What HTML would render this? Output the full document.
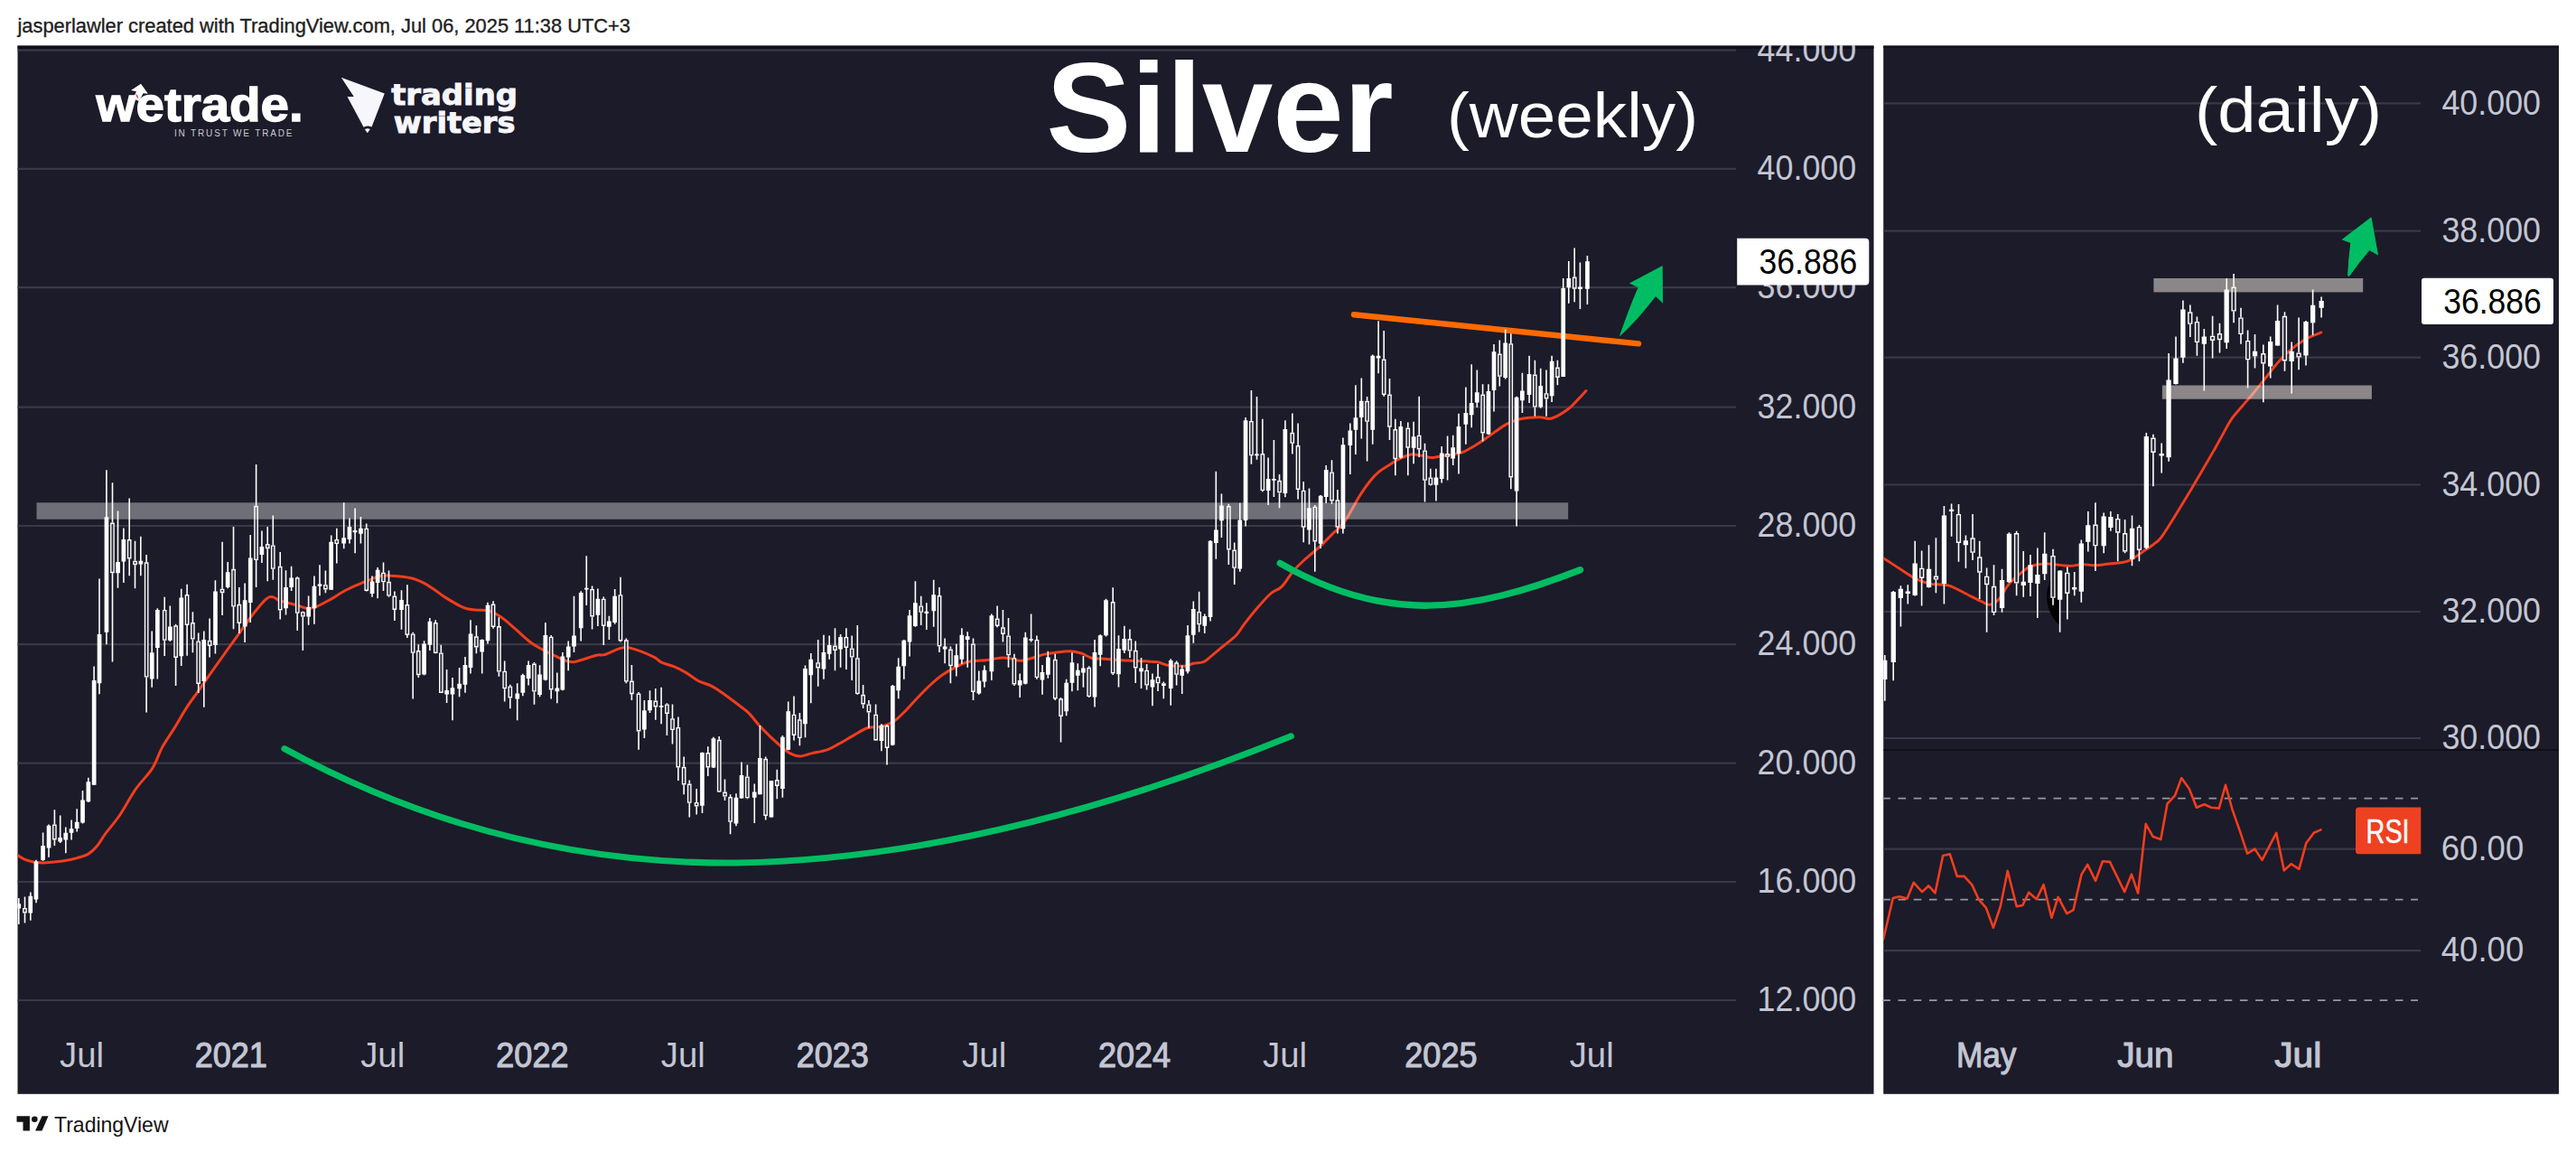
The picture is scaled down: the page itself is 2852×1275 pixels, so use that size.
<!DOCTYPE html><html><head><meta charset="utf-8"><title>Silver weekly and daily chart</title>
<style>html,body{margin:0;padding:0;background:#fff;}body{width:2852px;height:1275px;overflow:hidden;}svg{display:block;}text{font-family:"Liberation Sans",sans-serif;}.b{font-weight:bold;}.dj{font-family:"DejaVu Sans","Liberation Sans",sans-serif;font-weight:bold;}</style></head><body>
<svg width="2852" height="1275" viewBox="0 0 2852 1275">
<rect width="2852" height="1275" fill="#fff"/>
<text x="19.5" y="36.3" font-size="22" fill="#1e1e1e" stroke="#1e1e1e" stroke-width="0.35" textLength="678.5" lengthAdjust="spacingAndGlyphs">jasperlawler created with TradingView.com, Jul 06, 2025 11:38 UTC+3</text>
<rect x="19.5" y="50.6" width="2055.0" height="1160.2" fill="#1c1b29"/>
<rect x="2085.2" y="50.6" width="747.8" height="1160.2" fill="#1c1b29"/>
<rect x="19.5" y="50.6" width="2055.0" height="3.3" fill="#100e1f"/>
<rect x="2085.2" y="50.6" width="747.8" height="2.5" fill="#14121f"/>
<path d="M19.5,55.6H1922M19.5,186.8H1922M19.5,318.2H1922M19.5,450.7H1922M19.5,582.0H1922M19.5,713.2H1922M19.5,844.6H1922M19.5,976.0H1922M19.5,1107.0H1922" stroke="#3b3946" stroke-width="2.2" fill="none"/>
<path d="M2085.2,114.4H2680M2085.2,255.7H2680M2085.2,395.6H2680M2085.2,536.5H2680M2085.2,677.0H2680M2085.2,817.0H2680M2085.2,939.6H2680M2085.2,1052.2H2680" stroke="#3b3946" stroke-width="2.2" fill="none"/>
<path d="M2084.3,883.7H2677M2084.3,995.7H2677M2084.3,1107.2H2677" stroke="#9698a3" stroke-width="1.7" stroke-dasharray="8.6 8.6" fill="none"/>
<path d="M2085.2,830H2833.0" stroke="#07070b" stroke-width="1.2"/>
<svg x="19.5" y="50.6" width="2055.0" height="1160.2" viewBox="19.5 50.6 2055.0 1160.2">
<path d="M19.5,946.5C21.0,947.4 25.2,950.4 28.5,951.7C31.9,953.0 36.1,953.9 39.8,954.4C43.6,954.9 46.6,955.0 51.1,954.8C55.6,954.7 61.6,954.0 66.9,953.3C72.2,952.5 77.6,951.7 82.7,950.3C87.8,949.0 93.2,947.7 97.4,945.4C101.5,943.0 104.3,940.1 107.5,936.3C110.7,932.6 112.4,928.4 116.6,922.8C120.7,917.2 126.7,910.8 132.4,902.5C138.0,894.2 144.4,881.8 150.4,873.2C156.4,864.5 163.6,858.3 168.5,850.6C173.4,842.9 175.6,834.4 179.7,826.9C183.9,819.4 188.8,812.8 193.3,805.4C197.8,798.1 202.3,789.8 206.8,782.9C211.3,775.9 214.7,771.7 220.4,763.7C226.0,755.7 233.5,744.8 240.7,734.7C247.8,724.6 256.5,712.5 263.3,703.1C270.0,693.7 276.0,685.0 281.3,678.3C286.6,671.6 291.4,665.9 294.8,662.9C298.3,660.0 299.4,660.3 302.1,660.7C304.7,661.1 306.2,663.7 310.6,665.2C315.1,666.7 323.7,668.4 328.5,669.8C333.4,671.1 336.4,672.8 339.8,673.2C343.2,673.5 344.7,673.5 348.9,672.0C353.0,670.5 359.0,667.2 364.7,664.1C370.3,661.0 377.1,656.3 382.7,653.3C388.3,650.3 394.0,648.0 398.5,646.1C403.0,644.1 406.0,643.0 409.8,641.6C413.5,640.1 416.6,638.2 421.1,637.5C425.6,636.8 431.2,637.1 436.9,637.5C442.5,637.9 449.7,638.5 454.9,639.8C460.2,641.0 464.3,642.9 468.5,644.9C472.6,646.9 475.6,649.0 479.7,651.7C483.9,654.5 487.6,657.9 493.3,661.4C498.9,664.9 508.0,670.4 513.6,672.7C519.2,675.0 522.6,674.4 527.1,675.0C531.7,675.5 536.2,674.6 540.7,675.9C545.2,677.1 549.3,679.3 554.2,682.6C559.1,685.9 564.8,691.2 570.0,695.7C575.3,700.2 580.9,706.0 585.8,709.7C590.7,713.5 594.5,715.5 599.4,718.3C604.2,721.0 611.2,724.3 615.2,726.2C619.1,728.1 619.5,728.7 622.9,729.8C626.3,730.9 629.1,733.5 635.3,732.7C641.5,731.9 654.5,726.6 660.1,725.3C665.8,723.9 664.7,725.9 669.2,724.6C673.7,723.3 682.3,718.6 687.2,717.4C692.1,716.2 692.5,715.8 698.5,717.4C704.5,718.9 717.7,724.2 723.3,726.8C729.0,729.5 728.6,731.3 732.4,733.2C736.1,735.0 741.4,735.8 745.9,737.7C750.4,739.5 754.9,741.8 759.4,744.4C764.0,747.1 768.1,750.9 773.0,753.5C777.9,756.0 783.9,757.2 788.8,759.8C793.7,762.3 797.4,765.4 802.3,768.8C807.2,772.3 813.6,777.1 818.1,780.5C822.6,784.0 825.6,785.8 829.4,789.6C833.2,793.3 836.5,798.6 840.7,803.1C844.8,807.6 850.1,812.7 854.2,816.7C858.4,820.6 862.1,824.0 865.5,826.8C868.9,829.6 871.1,831.9 874.5,833.6C877.9,835.3 881.7,837.0 885.8,837.0C890.0,837.0 894.5,834.7 899.4,833.6C904.2,832.5 910.1,831.9 915.0,830.2C919.9,828.5 923.7,826.1 928.5,823.4C933.4,820.8 939.1,817.3 944.3,814.4C949.6,811.5 954.9,807.5 960.1,805.8C965.4,804.1 971.0,805.4 975.9,804.2C980.8,803.0 985.0,801.6 989.5,798.6C994.0,795.6 998.5,790.7 1003.0,786.2C1007.5,781.7 1012.0,776.2 1016.6,771.5C1021.1,766.8 1025.6,762.1 1030.1,758.0C1034.6,753.8 1039.1,749.9 1043.6,746.7C1048.2,743.5 1052.7,741.1 1057.2,738.8C1061.7,736.5 1066.6,733.9 1070.7,732.7C1074.9,731.5 1078.2,731.7 1082.0,731.3C1085.8,731.0 1089.2,731.0 1093.3,730.4C1097.4,729.9 1102.7,728.5 1106.8,728.2C1111.0,727.9 1114.4,728.1 1118.1,728.6C1121.9,729.2 1125.3,731.4 1129.4,731.3C1133.5,731.3 1138.4,729.4 1142.9,728.2C1147.5,727.0 1152.0,725.2 1156.5,724.1C1161.0,723.1 1165.1,722.4 1170.0,721.9C1174.9,721.3 1181.3,720.6 1185.8,720.7C1190.3,720.9 1193.3,721.8 1197.1,723.0C1200.9,724.2 1204.6,727.2 1208.4,728.2C1212.1,729.2 1214.8,728.7 1219.7,729.1C1224.5,729.5 1230.8,730.0 1237.6,730.4C1244.3,730.8 1253.0,731.1 1260.1,731.5C1267.3,731.9 1274.8,731.8 1280.4,732.6C1286.1,733.5 1288.7,735.7 1294.0,736.5C1299.3,737.2 1307.5,737.5 1312.0,737.2C1316.6,736.8 1317.7,735.0 1321.1,734.2C1324.5,733.5 1329.0,734.0 1332.4,732.6C1335.7,731.3 1337.6,728.9 1341.4,725.9C1345.1,722.9 1350.4,718.4 1354.9,714.6C1359.4,710.8 1364.7,707.3 1368.5,703.3C1372.2,699.4 1373.7,695.8 1377.5,690.9C1381.3,686.0 1386.1,679.6 1391.0,674.0C1395.9,668.3 1402.1,661.2 1406.8,657.0C1411.5,652.9 1415.1,653.3 1419.2,649.1C1423.4,645.0 1427.3,637.3 1431.7,632.2C1436.0,627.1 1440.3,623.2 1445.2,618.7C1450.1,614.2 1456.1,609.7 1461.0,605.1C1465.9,600.6 1470.0,596.1 1474.5,591.6C1479.0,587.1 1482.8,585.4 1488.1,578.1C1493.3,570.7 1501.2,555.3 1506.1,547.6C1511.0,539.9 1514.0,536.0 1517.4,531.8C1520.8,527.6 1523.1,525.2 1526.4,522.4C1529.8,519.5 1533.5,517.5 1537.6,514.9C1541.7,512.3 1547.0,509.0 1551.1,507.0C1555.2,505.0 1558.6,503.4 1562.4,502.9C1566.2,502.5 1569.9,503.7 1573.7,504.3C1577.4,504.9 1580.8,506.6 1585.0,506.6C1589.1,506.6 1594.4,504.9 1598.5,504.3C1602.6,503.7 1606.0,503.7 1609.8,502.9C1613.5,502.2 1617.3,501.4 1621.1,499.8C1624.8,498.2 1628.6,495.7 1632.4,493.5C1636.1,491.2 1639.9,488.8 1643.6,486.2C1647.4,483.7 1650.8,481.0 1654.9,478.1C1659.1,475.3 1664.3,471.3 1668.5,469.1C1672.6,466.8 1675.6,465.7 1679.7,464.6C1683.9,463.4 1688.8,462.8 1693.3,462.3C1697.8,461.9 1702.7,461.8 1706.8,461.9C1711.0,462.0 1713.2,464.5 1718.1,463.0C1723.0,461.5 1731.3,456.4 1736.2,452.8C1741.1,449.3 1744.1,444.9 1747.5,441.6C1750.8,438.2 1754.6,434.0 1756.0,432.5" stroke="#f23d1d" stroke-width="3" fill="none" stroke-linejoin="round" stroke-linecap="round"/>
<path d="M1499,348.2L1814,380.4" stroke="#ff6a00" stroke-width="6.4" stroke-linecap="round"/>
<path d="M20.8,994.0V1023.0M27.5,992.4V1004.9M27.5,1010.4V1021.5M33.8,987.5V1018.8M40.0,951.7V999.3M47.6,921.5V952.8M54.0,912.6V948.8M60.4,896.2V912.6M60.4,929.6V935.9M66.7,902.5V933.0M72.8,915.6V944.2M79.1,907.5V929.6M85.2,895.3V920.5M91.5,875.0V911.5M97.8,860.7V887.8M104.1,737.5V868.6M110.0,640.5V768.2M117.9,520.3V713.3M124.5,534.3V578.5M124.5,634.3V732.5M130.5,565.4V650.8M136.9,584.6V644.9M143.2,551.5V597.0M143.2,618.5V637.2M149.5,598.8V620.7M149.5,625.3V651.2M155.8,593.7V637.2M162.1,614.0V622.3M162.1,749.6V788.4M168.2,698.6V760.7M174.3,673.3V751.4M182.2,660.7V674.9M182.2,708.8V726.1M188.3,670.4V709.9M194.6,690.7V692.3M194.6,727.9V758.9M200.7,651.7V737.0M207.1,646.7V658.0M207.1,691.8V725.7M213.4,677.2V689.1M213.4,707.6V722.3M219.7,700.4V709.4M219.7,757.1V767.0M225.8,698.6V782.8M232.1,684.6V708.8M232.1,714.8V727.5M238.4,642.2V723.4M246.1,599.8V651.7M246.1,656.2V681.0M252.2,621.9V651.2M258.5,583.1V629.8M258.5,671.5V696.3M264.8,650.1V668.8M264.8,690.0V700.9M271.1,645.6V711.0M277.2,592.1V689.1M283.6,514.0V559.8M283.6,620.1V650.1M289.9,587.6V623.0M296.2,583.1V602.0M296.2,607.2V643.3M302.3,570.4V603.4M302.3,629.8V641.7M310.2,611.0V626.8M310.2,675.6V685.5M316.5,631.3V680.5M322.6,626.8V653.9M329.2,638.2V639.3M329.2,678.8V698.0M335.3,676.5V677.2M335.3,682.6V720.1M341.6,659.6V691.7M347.9,637.5V690.8M354.0,625.3V659.2M360.4,631.4V647.2M360.4,652.4V656.2M366.7,592.4V652.8M372.8,584.7V596.9M372.8,602.1V623.5M380.7,556.2V607.3M387.0,573.4V601.4M393.1,562.6V612.2M399.4,572.0V601.4M405.7,579.5V584.7M405.7,654.0V654.6M412.0,637.5V660.7M418.1,628.0V662.3M424.5,622.4V633.7M424.5,644.3V654.0M430.5,631.4V643.8M430.5,659.6V660.7M436.9,654.6V659.6M436.9,675.0V687.1M444.5,653.3V696.8M450.9,647.2V669.1M450.9,702.9V705.9M457.2,699.8V701.4M457.2,722.8V773.6M463.3,713.3V720.1M463.3,747.2V749.9M469.6,709.3V747.2M475.9,684.0V720.1M482.2,686.2V689.0M482.2,722.8V723.3M488.3,713.8V722.4M488.3,766.8V766.8M494.6,740.9V778.1M501.0,749.9V797.3M508.6,739.1V771.3M515.0,726.9V766.8M521.0,686.2V745.4M527.4,692.3V704.3M527.4,716.5V723.3M533.7,707.5V745.4M540.0,666.8V712.6M546.1,665.3V668.6M546.1,693.9V695.7M552.4,683.3V693.0M552.4,743.6V748.8M558.7,731.4V742.7M558.7,762.3V776.5M564.8,757.8V759.4M564.8,772.5V784.2M572.7,756.2V797.3M578.8,745.8V770.2M585.1,731.4V758.5M591.5,733.0V734.5M591.5,765.7V779.7M597.6,736.3V771.3M603.9,689.0V753.3M610.2,702.9V704.7M610.2,763.4V773.6M616.8,744.4V778.3M622.9,721.9V764.3M629.2,709.5V742.2M635.5,659.8V721.9M643.2,654.2V709.5M649.3,615.3V670.0M655.6,648.5V651.9M655.6,682.4V696.6M661.9,651.5V693.0M668.3,660.5V662.7M668.3,693.0V714.0M674.4,681.7V707.9M680.7,651.9V690.7M687.0,638.8V658.2M687.0,709.5V710.6M693.3,706.5V708.3M693.3,754.6V756.2M699.4,735.9V753.5M699.4,768.1V774.9M707.1,765.9V767.5M707.1,809.4V829.7M713.4,774.9V817.1M719.5,764.3V789.1M725.8,762.0V775.6M725.8,782.4V796.8M732.1,760.7V801.3M738.4,778.3V779.4M738.4,790.0V813.9M744.5,779.4V795.2M744.5,808.1V823.4M750.9,793.6V804.9M750.9,849.5V864.0M757.2,837.6V848.8M757.2,868.5V879.3M763.3,863.5V867.6M763.3,888.8V904.6M771.2,873.0V887.9M771.2,892.4V901.4M777.5,832.4V900.1M783.8,826.3V833.0M783.8,849.5V859.0M789.9,815.7V850.0M796.2,815.0V818.8M796.2,876.6V877.0M802.5,862.4V876.6M802.5,881.6V886.1M808.6,879.3V882.0M808.6,909.8V923.3M815.0,878.2V914.3M821.0,843.6V883.8M827.4,846.6V859.4M827.4,883.4V884.3M835.3,867.6V910.9M841.4,803.0V879.3M847.7,837.6V839.8M847.7,903.0V907.5M854.0,864.0V904.6M860.3,851.8V863.1M860.3,869.8V884.3M866.4,813.9V882.7M872.7,776.5V830.2M879.0,770.4V790.7M879.0,813.9V819.4M885.4,789.1V796.3M885.4,817.1V825.2M891.5,736.5V816.2M897.8,723.0V778.3M905.7,707.9V733.2M905.7,739.5V759.8M912.0,702.7V751.7M918.2,703.4V729.8M924.5,695.2V714.6M924.5,720.1V742.2M930.6,702.0V738.8M936.9,695.2V704.9M936.9,716.9V741.1M943.2,703.4V717.4M943.2,727.5V753.0M949.3,692.1V728.2M949.3,768.1V768.8M955.6,758.0V768.8M955.6,779.4V783.9M961.9,774.9V779.4M961.9,788.4V805.8M969.6,779.4V790.7M969.6,819.4V820.0M975.9,801.3V831.3M982.0,802.0V803.1M982.0,827.9V846.4M988.3,758.0V825.2M994.7,728.2V773.3M1000.8,707.9V751.7M1007.1,674.9V726.4M1013.4,643.3V693.7M1019.7,659.8V670.4M1019.7,677.9V692.1M1025.8,667.3V697.0M1033.7,641.8V693.7M1040.0,650.1V659.1M1040.0,715.5V721.9M1046.1,706.5V734.3M1052.4,715.5V718.5M1052.4,737.2V756.2M1058.8,712.8V748.5M1064.9,695.2V735.0M1071.2,699.3V738.8M1077.5,706.5V712.4M1077.5,765.9V774.9M1083.8,742.6V768.8M1089.9,736.5V760.7M1097.8,679.4V753.0M1104.1,670.4V684.6M1104.1,693.0V694.3M1110.4,674.9V694.3M1110.4,702.0V710.6M1116.5,684.0V703.4M1116.5,725.3V738.8M1122.9,723.7V728.2M1122.9,757.5V759.1M1129.2,745.6V772.0M1135.3,699.8V757.5M1141.6,679.4V710.6M1147.9,703.4V707.9M1147.9,750.1V751.7M1154.0,735.9V768.8M1160.3,720.7V750.8M1168.2,723.7V729.8M1168.2,773.3V774.9M1174.5,772.0V773.3M1174.5,793.0V821.6M1180.6,751.7V792.3M1186.9,722.3V765.2M1193.3,734.3V764.3M1199.4,725.9V760.7M1205.7,737.2V738.8M1205.7,771.1V772.0M1212.0,707.9V782.4M1218.2,702.2V737.2M1224.5,662.7V704.4M1232.2,650.3V666.1M1232.2,745.5V746.9M1238.5,703.3V760.4M1244.8,692.7V722.9M1250.9,696.5V707.1M1250.9,720.7V728.1M1257.2,709.4V719.8M1257.2,739.4V755.9M1263.5,728.1V762.0M1269.6,734.9V741.7M1269.6,758.6V763.6M1275.9,745.5V781.2M1282.0,734.9V749.1M1282.0,756.3V764.9M1288.3,754.5V756.3M1288.3,759.1V773.3M1296.2,729.3V780.7M1302.6,731.5V733.3M1302.6,746.9V758.6M1308.7,736.5V768.1M1315.0,692.0V745.5M1321.3,665.6V711.7M1327.6,654.8V676.9M1327.6,691.3V699.5M1333.7,679.6V701.1M1340.0,597.9V687.5M1346.3,521.7V618.7M1352.4,546.5V595.0M1360.3,557.8V560.0M1360.3,608.5V625.0M1366.7,600.6V608.5M1366.7,628.8V646.9M1372.8,556.7V632.7M1379.1,461.9V582.6M1385.4,432.1V465.9M1385.4,504.3V513.8M1391.5,438.9V508.8M1397.8,463.7V502.0M1397.8,543.1V544.2M1404.1,506.6V558.9M1410.4,487.1V549.9M1416.5,525.1V531.8M1416.5,545.4V562.3M1422.9,465.3V550.3M1430.8,457.4V478.8M1430.8,490.8V502.5M1437.1,468.6V493.0M1437.1,542.0V552.6M1443.2,533.0V542.7M1443.2,583.7V600.2M1449.5,540.4V602.4M1455.8,558.9V560.7M1455.8,599.5V632.7M1462.1,548.1V606.9M1468.2,514.9V557.1M1474.5,509.3V522.4M1474.5,554.4V557.8M1480.9,542.0V553.3M1480.9,583.7V590.5M1486.9,484.4V590.5M1494.8,468.6V525.1M1500.9,426.2V502.9M1507.3,418.5V485.6M1513.6,438.9V443.8M1513.6,466.8V510.4M1519.7,392.4V491.7M1526.1,355.3V413.3M1532.2,366.0V397.5M1532.2,437.0V438.8M1538.5,419.0V436.6M1538.5,472.7V487.1M1544.8,463.7V475.0M1544.8,508.1V526.2M1550.9,465.9V507.5M1558.8,467.5V473.6M1558.8,495.7V526.2M1565.1,466.8V513.3M1571.2,438.8V481.7M1571.2,497.5V505.9M1577.5,490.8V498.4M1577.5,531.8V555.5M1583.8,518.7V528.4M1583.8,536.8V537.5M1589.9,518.7V554.4M1596.2,493.9V534.5M1602.6,482.6V502.0M1602.6,505.9V531.4M1608.7,481.7V514.9M1615.0,457.8V524.6M1622.9,428.5V491.7M1629.2,403.2V473.2M1635.3,409.5V451.0M1641.6,425.3V436.6M1641.6,479.5V488.5M1647.9,425.3V481.1M1654.0,381.1V455.5M1660.3,376.6V391.5M1660.3,416.7V427.6M1666.7,364.4V419.4M1672.8,369.3V380.2M1672.8,528.4V541.3M1679.1,438.8V582.6M1685.4,412.7V456.9M1693.1,393.7V446.1M1699.4,398.7V414.5M1699.4,450.6V460.7M1705.7,407.7V451.7M1712.0,409.5V435.2M1712.0,441.6V460.7M1718.1,393.7V444.9M1724.4,398.7V406.6M1724.4,417.9V426.2M1730.7,307.9V417.0M1736.8,288.9V335.7M1743.2,274.6V306.5M1743.2,319.7V334.3M1749.4,290.6V342.0M1757.4,282.9V337.0" stroke="#fff" stroke-width="1.6" fill="none"/><path d="M18.4,1000.3h4.7v5.3h-4.7zM31.4,991.7h4.7v18.7h-4.7zM37.6,953.5h4.7v42.1h-4.7zM45.2,936.0h4.7v16.0h-4.7zM51.7,913.8h4.7v24.8h-4.7zM64.3,926.9h4.7v4.5h-4.7zM70.4,921.7h4.7v7.9h-4.7zM76.7,917.2h4.7v4.5h-4.7zM82.8,909.7h4.7v7.4h-4.7zM89.2,885.6h4.7v24.8h-4.7zM95.5,865.3h4.7v21.9h-4.7zM101.8,752.9h4.7v115.8h-4.7zM107.7,702.1h4.7v54.2h-4.7zM115.6,572.2h4.7v127.5h-4.7zM128.2,621.9h4.7v12.4h-4.7zM134.5,597.0h4.7v24.4h-4.7zM153.5,620.7h4.7v3.8h-4.7zM165.9,722.3h4.7v29.1h-4.7zM172.0,674.9h4.7v42.2h-4.7zM186.0,693.6h4.7v15.1h-4.7zM198.4,661.4h4.7v64.8h-4.7zM223.4,708.1h4.7v45.8h-4.7zM236.1,654.6h4.7v59.4h-4.7zM249.8,633.2h4.7v16.9h-4.7zM268.8,664.3h4.7v29.3h-4.7zM274.9,617.4h4.7v49.7h-4.7zM287.5,604.9h4.7v9.0h-4.7zM314.2,650.1h4.7v23.2h-4.7zM320.3,639.5h4.7v10.6h-4.7zM339.3,672.0h4.7v10.6h-4.7zM345.6,648.8h4.7v24.4h-4.7zM351.7,646.5h4.7v2.3h-4.7zM364.3,599.8h4.7v53.0h-4.7zM378.3,595.3h4.7v6.1h-4.7zM384.6,582.9h4.7v14.0h-4.7zM390.7,586.9h4.7v2.3h-4.7zM397.1,584.7h4.7v6.1h-4.7zM409.7,643.4h4.7v13.5h-4.7zM415.8,630.7h4.7v14.2h-4.7zM442.2,664.1h4.7v10.8h-4.7zM467.2,712.6h4.7v33.9h-4.7zM473.6,687.8h4.7v26.0h-4.7zM492.3,763.9h4.7v4.5h-4.7zM498.6,761.2h4.7v7.2h-4.7zM506.3,756.7h4.7v5.6h-4.7zM512.6,735.9h4.7v21.9h-4.7zM518.7,701.4h4.7v37.7h-4.7zM531.3,708.1h4.7v13.5h-4.7zM537.7,669.8h4.7v39.5h-4.7zM570.4,767.5h4.7v6.1h-4.7zM576.5,747.2h4.7v19.6h-4.7zM582.8,735.9h4.7v15.1h-4.7zM595.2,746.5h4.7v22.6h-4.7zM601.5,702.9h4.7v49.7h-4.7zM614.5,761.4h4.7v3.8h-4.7zM620.5,726.4h4.7v37.2h-4.7zM626.9,715.5h4.7v12.0h-4.7zM633.2,703.4h4.7v12.2h-4.7zM640.9,656.0h4.7v39.3h-4.7zM647.0,650.8h4.7v1.6h-4.7zM659.6,662.7h4.7v18.1h-4.7zM672.0,687.6h4.7v6.1h-4.7zM678.3,659.8h4.7v29.3h-4.7zM711.0,786.2h4.7v21.4h-4.7zM717.1,774.9h4.7v11.3h-4.7zM729.8,781.0h4.7v1.8h-4.7zM775.1,833.0h4.7v58.7h-4.7zM787.6,817.2h4.7v32.3h-4.7zM812.6,882.7h4.7v28.7h-4.7zM818.7,857.9h4.7v25.5h-4.7zM832.9,876.6h4.7v6.1h-4.7zM839.0,839.1h4.7v40.2h-4.7zM851.6,864.0h4.7v40.6h-4.7zM864.1,815.7h4.7v57.3h-4.7zM870.4,787.3h4.7v42.4h-4.7zM889.1,739.9h4.7v61.4h-4.7zM895.4,729.8h4.7v17.4h-4.7zM909.6,721.9h4.7v18.5h-4.7zM915.8,714.0h4.7v9.7h-4.7zM928.2,704.9h4.7v13.5h-4.7zM973.6,802.7h4.7v17.4h-4.7zM986.0,759.1h4.7v65.4h-4.7zM992.3,737.7h4.7v26.6h-4.7zM998.4,708.8h4.7v28.4h-4.7zM1004.7,681.2h4.7v29.3h-4.7zM1011.0,667.3h4.7v25.7h-4.7zM1023.5,676.7h4.7v2.3h-4.7zM1031.4,658.2h4.7v18.1h-4.7zM1043.8,715.5h4.7v2.9h-4.7zM1056.4,725.3h4.7v12.9h-4.7zM1062.5,702.7h4.7v27.1h-4.7zM1068.8,704.3h4.7v3.6h-4.7zM1081.5,753.5h4.7v14.0h-4.7zM1087.6,741.7h4.7v12.9h-4.7zM1095.5,681.2h4.7v62.1h-4.7zM1126.8,753.0h4.7v5.4h-4.7zM1132.9,705.6h4.7v51.2h-4.7zM1139.2,707.2h4.7v1.6h-4.7zM1151.6,744.0h4.7v8.4h-4.7zM1158.0,727.5h4.7v19.2h-4.7zM1178.3,755.7h4.7v31.6h-4.7zM1184.6,733.2h4.7v22.6h-4.7zM1190.9,741.7h4.7v6.1h-4.7zM1197.0,739.5h4.7v5.0h-4.7zM1209.6,721.9h4.7v49.7h-4.7zM1215.8,703.3h4.7v21.4h-4.7zM1222.1,664.3h4.7v39.0h-4.7zM1236.1,718.0h4.7v28.2h-4.7zM1242.4,707.1h4.7v12.6h-4.7zM1261.2,739.4h4.7v3.8h-4.7zM1273.6,752.3h4.7v8.1h-4.7zM1293.9,731.1h4.7v30.9h-4.7zM1306.3,740.5h4.7v7.2h-4.7zM1312.6,703.3h4.7v39.9h-4.7zM1318.9,674.0h4.7v28.7h-4.7zM1331.4,681.9h4.7v10.8h-4.7zM1337.7,598.8h4.7v84.2h-4.7zM1344.0,586.5h4.7v14.6h-4.7zM1350.1,559.4h4.7v16.9h-4.7zM1370.4,575.4h4.7v54.1h-4.7zM1376.7,465.3h4.7v110.6h-4.7zM1389.1,502.5h4.7v1.8h-4.7zM1401.8,530.0h4.7v13.1h-4.7zM1408.1,530.0h4.7v1.8h-4.7zM1420.5,475.0h4.7v70.9h-4.7zM1447.1,562.3h4.7v24.3h-4.7zM1459.8,548.8h4.7v53.0h-4.7zM1465.9,520.1h4.7v29.8h-4.7zM1484.6,492.3h4.7v92.9h-4.7zM1492.5,476.5h4.7v16.5h-4.7zM1498.6,462.3h4.7v13.5h-4.7zM1504.9,443.8h4.7v18.1h-4.7zM1517.4,393.7h4.7v82.1h-4.7zM1523.7,393.7h4.7v2.7h-4.7zM1548.5,472.0h4.7v34.5h-4.7zM1562.8,483.3h4.7v12.4h-4.7zM1587.6,528.4h4.7v8.4h-4.7zM1593.9,501.4h4.7v28.7h-4.7zM1606.3,495.3h4.7v12.2h-4.7zM1612.6,472.0h4.7v30.0h-4.7zM1620.5,456.9h4.7v12.9h-4.7zM1626.8,446.1h4.7v13.1h-4.7zM1632.9,434.3h4.7v11.3h-4.7zM1645.6,433.0h4.7v47.4h-4.7zM1651.7,389.2h4.7v42.9h-4.7zM1664.3,379.5h4.7v38.4h-4.7zM1676.7,439.8h4.7v103.8h-4.7zM1683.0,432.5h4.7v10.8h-4.7zM1690.7,414.0h4.7v23.0h-4.7zM1703.4,426.9h4.7v23.7h-4.7zM1715.8,399.8h4.7v38.4h-4.7zM1728.4,319.0h4.7v98.0h-4.7zM1734.5,307.9h4.7v10.4h-4.7zM1747.1,317.6h4.7v2.4h-4.7zM1755.1,289.2h4.7v30.5h-4.7z" fill="#fff"/><path d="M25.8,1005.6h3.3v4.1h-3.3zM58.7,913.3h3.3v15.5h-3.3zM122.8,579.2h3.3v54.3h-3.3zM141.5,597.7h3.3v20.0h-3.3zM147.9,621.4h3.3v3.1h-3.3zM160.5,623.0h3.3v125.9h-3.3zM180.6,675.6h3.3v32.5h-3.3zM193.0,693.0h3.3v34.3h-3.3zM205.4,658.7h3.3v32.5h-3.3zM211.7,689.8h3.3v17.1h-3.3zM218.0,710.1h3.3v46.2h-3.3zM230.5,709.5h3.3v4.7h-3.3zM244.4,652.4h3.3v3.1h-3.3zM256.9,630.5h3.3v40.4h-3.3zM263.2,669.5h3.3v19.8h-3.3zM281.9,560.5h3.3v58.9h-3.3zM294.6,602.7h3.3v3.8h-3.3zM300.6,604.1h3.3v25.0h-3.3zM308.5,627.5h3.3v47.3h-3.3zM327.6,640.0h3.3v38.1h-3.3zM333.7,677.9h3.3v4.0h-3.3zM358.7,647.9h3.3v3.8h-3.3zM371.1,597.6h3.3v3.8h-3.3zM404.1,585.4h3.3v67.9h-3.3zM422.8,634.4h3.3v9.2h-3.3zM428.9,644.5h3.3v14.4h-3.3zM435.2,660.3h3.3v13.9h-3.3zM449.2,669.8h3.3v32.5h-3.3zM455.5,702.1h3.3v20.0h-3.3zM461.6,720.8h3.3v25.7h-3.3zM480.6,689.7h3.3v32.5h-3.3zM486.7,723.1h3.3v43.1h-3.3zM525.7,705.0h3.3v10.8h-3.3zM544.4,669.3h3.3v23.9h-3.3zM550.8,693.7h3.3v49.2h-3.3zM557.1,743.4h3.3v18.2h-3.3zM563.2,760.1h3.3v11.7h-3.3zM589.8,735.2h3.3v29.7h-3.3zM608.5,705.4h3.3v57.3h-3.3zM654.0,652.6h3.3v29.1h-3.3zM666.6,663.4h3.3v28.8h-3.3zM685.3,658.9h3.3v49.8h-3.3zM691.7,709.0h3.3v44.9h-3.3zM697.8,754.2h3.3v13.3h-3.3zM705.4,768.2h3.3v40.6h-3.3zM724.2,776.3h3.3v5.4h-3.3zM736.8,780.1h3.3v9.2h-3.3zM742.9,795.9h3.3v11.5h-3.3zM749.2,805.6h3.3v43.2h-3.3zM755.5,849.5h3.3v18.2h-3.3zM761.6,868.3h3.3v19.8h-3.3zM769.5,888.6h3.3v3.1h-3.3zM782.2,833.7h3.3v15.1h-3.3zM794.6,819.5h3.3v56.4h-3.3zM800.9,877.3h3.3v3.6h-3.3zM807.0,882.7h3.3v26.4h-3.3zM825.7,860.1h3.3v22.5h-3.3zM846.0,840.5h3.3v61.8h-3.3zM858.7,863.8h3.3v5.4h-3.3zM877.4,791.4h3.3v21.8h-3.3zM883.7,797.0h3.3v19.4h-3.3zM904.0,733.9h3.3v4.9h-3.3zM922.8,715.3h3.3v4.0h-3.3zM935.2,705.6h3.3v10.6h-3.3zM941.6,718.1h3.3v8.8h-3.3zM947.7,728.9h3.3v38.5h-3.3zM954.0,769.5h3.3v9.2h-3.3zM960.3,780.1h3.3v7.6h-3.3zM968.0,791.4h3.3v27.3h-3.3zM980.4,803.8h3.3v23.4h-3.3zM1018.1,671.1h3.3v6.0h-3.3zM1038.4,659.8h3.3v55.0h-3.3zM1050.8,719.2h3.3v17.3h-3.3zM1075.8,713.1h3.3v52.1h-3.3zM1102.5,685.3h3.3v7.0h-3.3zM1108.8,695.0h3.3v6.3h-3.3zM1114.9,704.1h3.3v20.5h-3.3zM1121.2,728.9h3.3v27.9h-3.3zM1146.3,708.6h3.3v40.8h-3.3zM1166.6,730.5h3.3v42.2h-3.3zM1172.9,774.0h3.3v18.2h-3.3zM1204.0,739.5h3.3v30.9h-3.3zM1230.5,666.8h3.3v78.0h-3.3zM1249.2,707.8h3.3v12.1h-3.3zM1255.6,720.5h3.3v18.2h-3.3zM1268.0,742.4h3.3v15.5h-3.3zM1280.4,749.8h3.3v5.8h-3.3zM1286.7,757.0h3.3v1.3h-3.3zM1300.9,734.0h3.3v12.1h-3.3zM1326.0,677.6h3.3v13.0h-3.3zM1358.7,560.7h3.3v47.1h-3.3zM1365.0,609.2h3.3v18.9h-3.3zM1383.7,466.6h3.3v37.0h-3.3zM1396.2,502.7h3.3v39.7h-3.3zM1414.9,532.5h3.3v12.1h-3.3zM1429.1,479.5h3.3v10.6h-3.3zM1435.4,493.7h3.3v47.6h-3.3zM1441.5,543.4h3.3v39.6h-3.3zM1454.2,561.4h3.3v37.4h-3.3zM1472.9,523.1h3.3v30.6h-3.3zM1479.2,554.0h3.3v29.0h-3.3zM1511.9,444.5h3.3v21.6h-3.3zM1530.5,398.2h3.3v38.1h-3.3zM1536.8,437.3h3.3v34.7h-3.3zM1543.1,475.7h3.3v31.8h-3.3zM1557.1,474.3h3.3v20.7h-3.3zM1569.5,482.4h3.3v14.4h-3.3zM1575.9,499.1h3.3v32.0h-3.3zM1582.2,529.1h3.3v7.0h-3.3zM1600.9,502.7h3.3v2.4h-3.3zM1640.0,437.3h3.3v41.5h-3.3zM1658.7,392.2h3.3v23.9h-3.3zM1671.1,380.9h3.3v146.9h-3.3zM1697.7,415.2h3.3v34.7h-3.3zM1710.4,435.9h3.3v4.9h-3.3zM1722.8,407.3h3.3v9.9h-3.3zM1741.6,307.2h3.3v11.8h-3.3z" fill="#2b2a37" stroke="#fff" stroke-width="1.4"/>
</svg>
<rect x="40.5" y="556.3" width="1695.7" height="18.4" fill="#ffffff" fill-opacity="0.37"/>
<path d="M314.9,828.6C471.1,914.0 637.5,956.6 815.7,955.0C1026.2,951.9 1235.2,893.3 1429.4,814.8" stroke="#00bd63" stroke-width="7" fill="none" stroke-linecap="round"/>
<path d="M1417.2,623.4C1534.7,691.2 1628.4,677.9 1749.5,630.7" stroke="#00bd63" stroke-width="7.4" fill="none" stroke-linecap="round"/>
<path d="M1840.7,294L1803.9,313.5L1813.6,318.3C1806,335 1799,355 1792.8,372.5C1806,361 1821,344 1833,328L1841.1,335.7Z" fill="#00bd63"/>
<text x="1945.6" y="67.8" font-size="38" fill="#c3c6d3" textLength="109.6" lengthAdjust="spacingAndGlyphs">44.000</text>
<text x="1945.6" y="199.0" font-size="38" fill="#c3c6d3" textLength="109.6" lengthAdjust="spacingAndGlyphs">40.000</text>
<text x="1945.6" y="330.4" font-size="38" fill="#c3c6d3" textLength="109.6" lengthAdjust="spacingAndGlyphs">36.000</text>
<text x="1945.6" y="462.9" font-size="38" fill="#c3c6d3" textLength="109.6" lengthAdjust="spacingAndGlyphs">32.000</text>
<text x="1945.6" y="594.2" font-size="38" fill="#c3c6d3" textLength="109.6" lengthAdjust="spacingAndGlyphs">28.000</text>
<text x="1945.6" y="725.4" font-size="38" fill="#c3c6d3" textLength="109.6" lengthAdjust="spacingAndGlyphs">24.000</text>
<text x="1945.6" y="856.8" font-size="38" fill="#c3c6d3" textLength="109.6" lengthAdjust="spacingAndGlyphs">20.000</text>
<text x="1945.6" y="988.2" font-size="38" fill="#c3c6d3" textLength="109.6" lengthAdjust="spacingAndGlyphs">16.000</text>
<text x="1945.6" y="1119.2" font-size="38" fill="#c3c6d3" textLength="109.6" lengthAdjust="spacingAndGlyphs">12.000</text>
<rect x="1900" y="0" width="200" height="50" fill="#fff"/>
<path d="M1923.2,263.7H2065.3a4,4 0 0 1 4,4V311.4a4,4 0 0 1 -4,4H1923.2Z" fill="#fff"/>
<text x="1947.6" y="303.2" font-size="38" fill="#000" textLength="108.6" lengthAdjust="spacingAndGlyphs">36.886</text>
<text x="90.5" y="1181.2" font-size="38" fill="#c3c6d3" text-anchor="middle" textLength="49" lengthAdjust="spacingAndGlyphs">Jul</text>
<text x="255.8" y="1181.2" font-size="38" fill="#c3c6d3" stroke="#c3c6d3" stroke-width="1.1" text-anchor="middle" textLength="80.2" lengthAdjust="spacingAndGlyphs">2021</text>
<text x="423.7" y="1181.2" font-size="38" fill="#c3c6d3" text-anchor="middle" textLength="49" lengthAdjust="spacingAndGlyphs">Jul</text>
<text x="589.4" y="1181.2" font-size="38" fill="#c3c6d3" stroke="#c3c6d3" stroke-width="1.1" text-anchor="middle" textLength="80.2" lengthAdjust="spacingAndGlyphs">2022</text>
<text x="756.3" y="1181.2" font-size="38" fill="#c3c6d3" text-anchor="middle" textLength="49" lengthAdjust="spacingAndGlyphs">Jul</text>
<text x="921.8" y="1181.2" font-size="38" fill="#c3c6d3" stroke="#c3c6d3" stroke-width="1.1" text-anchor="middle" textLength="80.2" lengthAdjust="spacingAndGlyphs">2023</text>
<text x="1089.7" y="1181.2" font-size="38" fill="#c3c6d3" text-anchor="middle" textLength="49" lengthAdjust="spacingAndGlyphs">Jul</text>
<text x="1256.0" y="1181.2" font-size="38" fill="#c3c6d3" stroke="#c3c6d3" stroke-width="1.1" text-anchor="middle" textLength="80.2" lengthAdjust="spacingAndGlyphs">2024</text>
<text x="1422.5" y="1181.2" font-size="38" fill="#c3c6d3" text-anchor="middle" textLength="49" lengthAdjust="spacingAndGlyphs">Jul</text>
<text x="1595.4" y="1181.2" font-size="38" fill="#c3c6d3" stroke="#c3c6d3" stroke-width="1.1" text-anchor="middle" textLength="80.2" lengthAdjust="spacingAndGlyphs">2025</text>
<text x="1762.2" y="1181.2" font-size="38" fill="#c3c6d3" text-anchor="middle" textLength="49" lengthAdjust="spacingAndGlyphs">Jul</text>
<svg x="2085.2" y="50.6" width="747.8" height="1160.2" viewBox="2085.2 50.6 747.8 1160.2">
<path d="M2085.6,617.9C2088.5,619.7 2096.7,625.4 2102.6,629.1C2108.4,632.9 2115.0,637.6 2120.6,640.4C2126.3,643.2 2130.4,644.8 2136.4,646.1C2142.4,647.3 2150.3,646.2 2156.7,647.9C2163.1,649.6 2168.8,653.3 2174.8,656.2C2180.8,659.1 2188.1,663.1 2192.8,665.3C2197.5,667.4 2199.6,669.7 2203.0,669.3C2206.4,668.9 2209.6,666.9 2213.2,663.0C2216.7,659.1 2220.3,651.0 2224.4,646.1C2228.6,641.2 2234.0,636.9 2238.0,633.7C2241.9,630.5 2244.0,628.5 2248.1,626.9C2252.3,625.3 2258.5,624.3 2262.8,624.0C2267.1,623.6 2269.2,624.2 2274.1,624.6C2279.0,625.0 2286.9,626.4 2292.1,626.4C2297.4,626.4 2301.2,624.7 2305.7,624.6C2310.2,624.5 2314.3,625.9 2319.2,625.8C2324.1,625.6 2329.0,624.7 2335.0,624.0C2341.0,623.2 2348.9,623.6 2355.3,621.2C2361.7,618.9 2368.5,613.2 2373.4,610.0C2378.3,606.8 2381.1,605.1 2384.7,602.1C2388.2,599.1 2388.8,600.6 2394.8,591.9C2400.9,583.2 2414.3,560.8 2420.9,550.0C2427.5,539.2 2429.6,535.3 2434.5,527.0C2439.4,518.6 2445.8,507.8 2450.3,499.9C2454.8,492.0 2458.2,485.6 2461.6,479.6C2464.9,473.6 2467.2,468.7 2470.6,463.8C2474.0,458.9 2477.7,455.1 2481.9,450.2C2486.0,445.3 2490.9,439.9 2495.4,434.4C2499.9,429.0 2504.4,423.2 2509.0,417.5C2513.5,411.9 2518.4,405.3 2522.5,400.6C2526.6,395.9 2530.0,392.7 2533.8,389.3C2537.5,385.9 2541.3,382.9 2545.1,380.3C2548.8,377.6 2552.2,375.6 2556.3,373.5C2560.5,371.4 2567.6,368.8 2569.9,367.9" stroke="#f23d1d" stroke-width="2.9" fill="none" stroke-linejoin="round" stroke-linecap="round"/>
<path d="M2282,627C2262,642 2261,674 2279.5,691.5L2281,691L2281.5,628Z" fill="#000"/>
<path d="M2086.8,725.1V775.8M2096.2,654.0V753.3M2104.4,648.3V693.5M2112.3,647.2V668.6M2120.2,598.7V659.6M2127.6,609.5V628.7M2127.6,640.0V670.4M2135.5,603.2V650.6M2143.4,595.3V637.5M2143.4,641.6V656.2M2152.4,559.9V668.6M2160.6,557.6V593.7M2168.5,558.1V568.9M2168.5,600.9V621.7M2176.4,592.4V629.1M2184.0,568.9V595.3M2184.0,611.8V620.1M2191.7,598.7V616.3M2191.7,633.7V663.0M2199.6,628.5V637.7M2199.6,647.2V699.8M2207.5,625.3V648.8M2207.5,678.1V681.1M2216.5,629.8V677.7M2224.4,589.2V644.9M2232.6,587.8V590.1M2232.6,645.6V659.2M2240.2,610.0V660.7M2247.9,614.0V660.1M2255.8,606.6V684.0M2263.7,589.2V642.0M2273.0,607.7V614.9M2273.0,661.9V669.8M2280.6,631.4V699.8M2288.8,627.6V633.7M2288.8,656.9V685.6M2296.7,633.0V659.2M2304.3,597.5V666.8M2311.8,566.0V610.4M2319.9,556.2V580.6M2319.9,604.3V632.1M2329.2,567.5V612.2M2336.8,566.0V587.8M2344.7,568.9V573.9M2344.7,589.7V621.2M2352.6,575.0V590.1M2352.6,610.4V612.2M2360.5,570.5V626.2M2368.4,581.1V582.9M2368.4,608.8V621.2M2376.3,479.1V607.7M2383.9,480.7V484.5M2383.9,501.0V538.3M2393.2,490.4V523.6M2401.1,391.1V510.7M2409.0,372.4V425.4M2416.9,332.4V401.7M2424.8,337.4V345.3M2424.8,358.8V373.1M2432.4,350.5V355.9M2432.4,379.1V393.8M2440.3,364.0V432.6M2449.6,349.8V371.7M2449.6,376.9V396.5M2457.5,357.7V369.0M2457.5,376.2V390.4M2465.2,308.1V385.9M2473.1,303.1V317.5M2473.1,344.6V357.3M2481.0,340.8V351.4M2481.0,370.1V380.7M2488.6,365.6V376.9M2488.6,398.3V429.5M2496.5,370.1V407.4M2505.8,381.4V391.1M2505.8,402.4V445.3M2513.7,372.4V418.6M2521.6,337.4V382.5M2529.5,345.3V349.8M2529.5,399.5V410.7M2537.2,378.5V435.6M2545.1,351.4V390.4M2545.1,395.6V409.2M2553.0,355.0V404.6M2560.6,320.5V371.2M2570.1,328.4V351.4" stroke="#fff" stroke-width="1.6" fill="none"/><path d="M2084.1,730.7h5.3v21.4h-5.3zM2093.6,655.1h5.3v77.9h-5.3zM2101.7,651.7h5.3v10.2h-5.3zM2109.6,654.6h5.3v2.3h-5.3zM2117.5,623.5h5.3v35.4h-5.3zM2132.9,629.8h5.3v20.1h-5.3zM2149.8,570.5h5.3v75.6h-5.3zM2157.9,563.7h5.3v2.3h-5.3zM2173.7,598.2h5.3v5.0h-5.3zM2213.9,642.0h5.3v31.1h-5.3zM2221.8,590.8h5.3v53.5h-5.3zM2237.6,643.8h5.3v4.1h-5.3zM2245.3,625.3h5.3v19.6h-5.3zM2253.2,635.9h5.3v10.2h-5.3zM2261.1,612.7h5.3v22.6h-5.3zM2278.0,631.4h5.3v32.3h-5.3zM2294.0,650.1h5.3v2.3h-5.3zM2301.7,601.4h5.3v53.3h-5.3zM2309.1,581.3h5.3v18.5h-5.3zM2326.5,571.6h5.3v32.7h-5.3zM2334.2,572.0h5.3v12.0h-5.3zM2357.9,584.7h5.3v34.3h-5.3zM2373.7,483.1h5.3v123.4h-5.3zM2390.5,502.1h5.3v2.3h-5.3zM2398.4,420.4h5.3v85.8h-5.3zM2406.3,396.5h5.3v28.4h-5.3zM2414.2,342.4h5.3v53.3h-5.3zM2437.7,372.4h5.3v8.4h-5.3zM2462.5,320.5h5.3v58.7h-5.3zM2493.9,388.8h5.3v5.4h-5.3zM2511.0,378.0h5.3v27.5h-5.3zM2518.9,355.0h5.3v27.5h-5.3zM2534.5,388.8h5.3v11.3h-5.3zM2550.3,355.9h5.3v37.5h-5.3zM2558.0,337.8h5.3v19.4h-5.3zM2567.5,332.9h5.3v7.9h-5.3z" fill="#fff"/><path d="M2125.7,629.4h3.9v9.9h-3.9zM2141.5,638.2h3.9v2.7h-3.9zM2166.5,569.6h3.9v30.6h-3.9zM2182.1,596.0h3.9v15.1h-3.9zM2189.8,617.0h3.9v16.0h-3.9zM2197.7,638.4h3.9v8.1h-3.9zM2205.6,649.5h3.9v27.9h-3.9zM2230.6,590.8h3.9v54.1h-3.9zM2271.0,615.6h3.9v45.5h-3.9zM2286.8,634.4h3.9v21.8h-3.9zM2318.0,581.3h3.9v22.3h-3.9zM2342.8,574.6h3.9v14.4h-3.9zM2350.7,590.8h3.9v18.9h-3.9zM2366.5,583.6h3.9v24.6h-3.9zM2382.0,485.2h3.9v15.1h-3.9zM2422.8,346.0h3.9v12.1h-3.9zM2430.5,356.6h3.9v21.8h-3.9zM2447.6,372.4h3.9v3.8h-3.9zM2455.5,369.7h3.9v5.8h-3.9zM2471.1,318.2h3.9v25.7h-3.9zM2479.0,352.1h3.9v17.3h-3.9zM2486.7,377.6h3.9v20.0h-3.9zM2503.8,391.8h3.9v9.9h-3.9zM2527.5,350.5h3.9v48.3h-3.9zM2543.1,391.1h3.9v3.8h-3.9z" fill="#2b2a37" stroke="#fff" stroke-width="1.4"/>
<path d="M2085.2,1039.3L2095.8,994.0L2102.9,992.3L2111.5,994.6L2118.7,976.8L2128.1,987.1L2135.3,980.3L2142.5,988.3L2151.1,947.0L2158.8,945.3L2166.8,969.9L2174.6,969.9L2183.2,979.1L2190.9,995.7L2198.9,1004.9L2206.9,1026.7L2214.7,1003.5L2222.7,963.9L2232.7,1003.2L2239.3,1002.0L2246.2,987.7L2254.8,995.2L2262.5,979.1L2271.4,1015.8L2278.6,992.9L2288.3,1011.2L2295.5,1007.2L2304.4,968.2L2311.2,956.8L2320.1,974.8L2327.9,953.3L2335.9,953.9L2352.2,987.1L2359.9,967.7L2367.1,988.6L2375.7,911.8L2383.7,926.1L2392.3,929.0L2399.5,889.7L2408.1,880.3L2415.2,861.1L2423.8,873.1L2431.9,893.7L2440.5,890.3L2448.2,893.7L2456.8,894.6L2464.0,868.8L2471.5,896.0L2480.1,920.4L2488.1,944.7L2496.4,939.6L2504.5,951.9L2520.2,921.8L2528.8,963.4L2536.6,956.2L2545.4,961.9L2553.2,933.3L2561.8,921.8L2569.5,918.4" stroke="#f23d1d" stroke-width="2.6" fill="none" stroke-linejoin="round" stroke-linecap="round"/>
</svg>
<rect x="2384.4" y="308" width="231.8" height="15.4" fill="#faf3e8" fill-opacity="0.5"/>
<rect x="2393.9" y="426.5" width="232" height="15.2" fill="#faf3e8" fill-opacity="0.5"/>
<path d="M2625.1,240.9L2593.4,265.1L2602.8,268.6Q2600.3,288 2599.6,305C2600,305.6 2600.6,305.6 2601,305.2Q2611.5,290.5 2623.3,276.6L2632.5,281.8Z" fill="#00bd63" stroke="#00bd63" stroke-width="1" stroke-linejoin="round"/>
<text x="2703.4" y="126.6" font-size="38" fill="#c3c6d3" textLength="109.6" lengthAdjust="spacingAndGlyphs">40.000</text>
<text x="2703.4" y="267.9" font-size="38" fill="#c3c6d3" textLength="109.6" lengthAdjust="spacingAndGlyphs">38.000</text>
<text x="2703.4" y="407.8" font-size="38" fill="#c3c6d3" textLength="109.6" lengthAdjust="spacingAndGlyphs">36.000</text>
<text x="2703.4" y="548.7" font-size="38" fill="#c3c6d3" textLength="109.6" lengthAdjust="spacingAndGlyphs">34.000</text>
<text x="2703.4" y="689.2" font-size="38" fill="#c3c6d3" textLength="109.6" lengthAdjust="spacingAndGlyphs">32.000</text>
<text x="2703.4" y="828.6" font-size="38" fill="#c3c6d3" textLength="109.6" lengthAdjust="spacingAndGlyphs">30.000</text>
<text x="2702.8" y="951.8" font-size="38" fill="#c3c6d3" textLength="91.4" lengthAdjust="spacingAndGlyphs">60.00</text>
<text x="2702.8" y="1064.4" font-size="38" fill="#c3c6d3" textLength="91.4" lengthAdjust="spacingAndGlyphs">40.00</text>
<rect x="2681" y="307.8" width="146" height="51.2" rx="3" fill="#fff"/>
<text x="2705.2" y="347.2" font-size="38" fill="#000" textLength="108.6" lengthAdjust="spacingAndGlyphs">36.886</text>
<path d="M2611.5,893.5H2680.3V945.3H2611.5a3.5,3.5 0 0 1 -3.5,-3.5V897a3.5,3.5 0 0 1 3.5,-3.5z" fill="#ee4121"/>
<text x="2619.6" y="933" font-size="36.5" fill="#fff" stroke="#fff" stroke-width="0.5" textLength="48" lengthAdjust="spacingAndGlyphs">RSI</text>
<text x="2199.2" y="1181.2" font-size="38" fill="#c3c6d3" stroke="#c3c6d3" stroke-width="1.1" text-anchor="middle" textLength="66.5" lengthAdjust="spacingAndGlyphs">May</text>
<text x="2375.3" y="1181.2" font-size="38" fill="#c3c6d3" stroke="#c3c6d3" stroke-width="1.1" text-anchor="middle" textLength="62.2" lengthAdjust="spacingAndGlyphs">Jun</text>
<text x="2544.2" y="1181.2" font-size="38" fill="#c3c6d3" stroke="#c3c6d3" stroke-width="1.1" text-anchor="middle" textLength="52.0" lengthAdjust="spacingAndGlyphs">Jul</text>
<text x="1158.2" y="167.8" font-size="141" fill="#fff" class="b" textLength="384.5" lengthAdjust="spacingAndGlyphs">Silver</text>
<text x="1602" y="152" font-size="71" fill="#fff" textLength="278" lengthAdjust="spacingAndGlyphs">(weekly)</text>
<text x="2430" y="146.3" font-size="71" fill="#fff" textLength="207" lengthAdjust="spacingAndGlyphs">(daily)</text>
<text x="106.6" y="133.8" font-size="51" fill="#fff" stroke="#fff" stroke-width="1.3" class="b" textLength="229" lengthAdjust="spacingAndGlyphs">wetrade.</text>
<path d="M145,99.9L156,92.8L163.9,103.8L158.5,103.2L154,112L147,109L151,101.2Z" fill="#fff"/>
<path d="M149.5,103.2C151.5,104.5 152.8,106.3 153.3,108.3L151.8,108.6C151.5,106.6 150.7,104.8 149.5,103.2Z" fill="#e01b24"/>
<text x="193" y="151.3" font-size="10" fill="#c9c9d2" textLength="130.5" lengthAdjust="spacing">IN TRUST WE TRADE</text>
<path d="M377.8,85.7L425.8,103.6L411.5,140.5Q407,138.2 402.6,140.8L384.5,107L391.8,106.9Z" fill="#f7f6fd"/>
<path d="M403.9,142.9Q407,141.8 409.8,142.9L406.8,147.2Z" fill="#f7f6fd"/>
<text x="433.2" y="116" font-size="32" fill="#f7f6fd" stroke="#f7f6fd" stroke-width="0.9" class="dj" textLength="139.8" lengthAdjust="spacingAndGlyphs">trading</text>
<text x="435.8" y="147.2" font-size="32" fill="#f7f6fd" stroke="#f7f6fd" stroke-width="0.9" class="dj" textLength="134.6" lengthAdjust="spacingAndGlyphs">writers</text>
<path d="M18.5,1235.3H32.9V1251.5H25.5V1241.8H18.5Z" fill="#131313"/>
<circle cx="38.3" cy="1238.7" r="3.3" fill="#131313"/>
<path d="M46.5,1235.3H53.5L46.5,1251.5H39.1Z" fill="#131313"/>
<text x="60" y="1252.9" font-size="23.4" fill="#131313" textLength="126.5" lengthAdjust="spacingAndGlyphs">TradingView</text>
</svg></body></html>
